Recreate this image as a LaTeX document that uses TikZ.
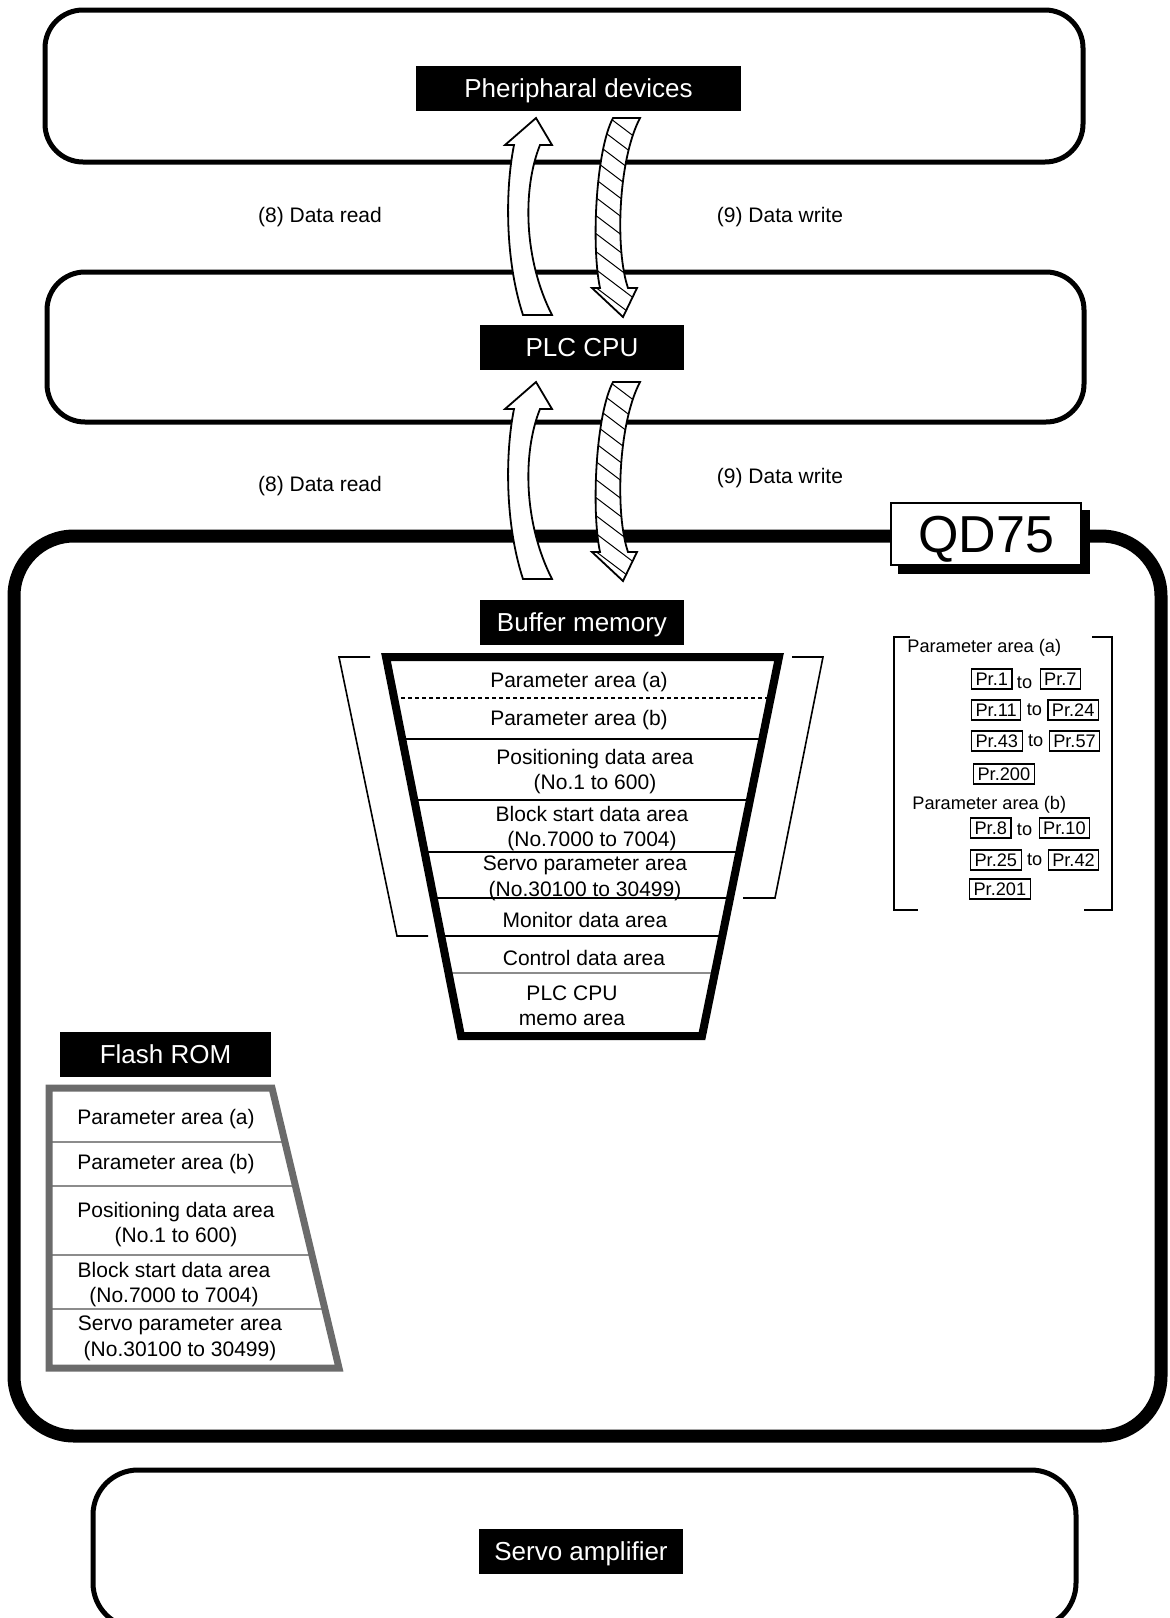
\documentclass[tikz,border=0pt]{standalone}
\usepackage{fontspec}
\setmainfont{Liberation Sans}
\usepackage{xcolor}
\usetikzlibrary{positioning,shadows}
\definecolor{romgray}{HTML}{6B6B6B}
\definecolor{linegray}{HTML}{8C8C8C}

\begin{document}
\begin{tikzpicture}[
    x=0.5pt, y=-0.5pt,
    font=\fontsize{10.5}{12.6}\selectfont,
    unit/.style={draw, line width=2.5pt, rounded corners=19pt},
    tag/.style={fill=black, text=white, minimum width=102pt,
                minimum height=22.5pt, inner sep=0pt, text height=9.4pt,
                text depth=0pt, font=\fontsize{13}{15}\selectfont},
    area/.style={align=center, inner sep=0pt, yshift=-1.2pt},
    prbox/.style={draw, line width=0.6pt, inner xsep=2pt, inner ysep=0pt,
                  minimum height=10pt, font=\fontsize{9.1}{11}\selectfont},
    prtext/.style={inner sep=0pt, font=\fontsize{9.1}{11}\selectfont},
    bracket/.style={line width=0.8pt},
    flow/.style={draw, line width=0.9pt, fill=white},
    readarrow/.pic={
      \draw[flow] (536,118) -- (552,145) -- (540,145)
        .. controls (522,190) and (524,260) .. (552,315)
        -- (523,315) .. controls (505,260) and (505,190) .. (514,145)
        -- (505,145) -- cycle;
    },
    writearrow/.pic={
      \begin{scope}
        \clip (613,118) -- (640,118) .. controls (618,160) and (615,250) .. (628,288)
          -- (637,288) -- (623,317) -- (592,288) -- (600,288)
          .. controls (591,245) and (596,150) .. cycle;
        \fill[white] (580,110) rectangle (650,320);
        \foreach \k in {0,...,13}
          \draw[line width=0.5pt] (570,88+18*\k) -- ++(90,68);
      \end{scope}
      \draw[line width=0.9pt] (613,118) -- (640,118)
        .. controls (618,160) and (615,250) .. (628,288)
        -- (637,288) -- (623,317) -- (592,288) -- (600,288)
        .. controls (591,245) and (596,150) .. cycle;
    },
]
\useasboundingbox (0,0) rectangle (1170,1618);

% Units
\draw[unit] (45,10) rectangle (1083,162);
\draw[unit] (47,272) rectangle (1084,422);
\draw[unit, rounded corners=22.5pt] (93,1470) rectangle (1076,1628);
\draw[line width=6.5pt, rounded corners=30pt] (14,536) rectangle (1161,1436);

% Data flow
\pic at (0,0) {readarrow};
\pic at (0,0) {writearrow};
\pic at (0,264) {readarrow};
\pic at (0,264) {writearrow};
\node (rd1) at (320,217) {(8) Data read};
\node (wr1) at (780,217) {(9) Data write};
\node (rd2) at (320,486) {(8) Data read};
\node (wr2) at (780,478) {(9) Data write};

% Labels
\node[tag, minimum width=162.5pt] (periph) at (578.5,88.5) {Pheripharal devices};
\node[tag] (plc) at (582,347) {PLC CPU};
\node[tag] (buffer) at (582,622) {Buffer memory};
\node[tag, minimum width=105.5pt] (flash) at (165.5,1054.5) {Flash ROM};
\node[tag] (servo) at (581,1551) {Servo amplifier};
\node[draw, fill=white, line width=0.8pt, minimum width=95pt,
      minimum height=31pt, inner sep=0pt, text height=18.6pt, text depth=0pt,
      font=\fontsize{26}{30}\selectfont,
      copy shadow={shadow xshift=4pt, shadow yshift=-4pt, fill=black, draw=black}]
  (qd) at (986,534) {QD75};

% Buffer memory
\begin{scope}
  \clip (386,657) -- (779,657) -- (702,1036) -- (461,1036) -- cycle;
  \draw[dash pattern=on 2pt off 1.5pt, line width=0.7pt] (380,698) -- (790,698);
  \foreach \yy in {739,800,852,898,936}
    \draw[line width=0.8pt] (380,\yy) -- (790,\yy);
  \draw[linegray, line width=0.8pt] (380,973) -- (790,973);
\end{scope}
\draw[line width=4pt] (386,657) -- (779,657) -- (702,1036) -- (461,1036) -- cycle;
\node[area] (b1) at (579,680) {Parameter area (a)};
\node[area] (b2) at (579,718) {Parameter area (b)};
\node[area] (b3) at (595,769) {Positioning data area\\(No.1 to 600)};
\node[area] (b4) at (592,826) {Block start data area\\(No.7000 to 7004)};
\node[area] (b5) at (585,876) {Servo parameter area\\(No.30100 to 30499)};
\node[area] (b6) at (585,918) {Monitor data area};
\node[area] (b7) at (584,956) {Control data area};
\node[area] (b8) at (572,1003) {PLC CPU\\memo area};
\draw[bracket] (370,657) -- (339,657) -- (397,936) -- (428,936);
\draw[bracket] (792,657) -- (823,657) -- (775,898) -- (743,898);

% Parameter list
\draw[bracket] (910,637) -- (894,637) -- (894,910) -- (918,910);
\draw[bracket] (1092,637) -- (1112,637) -- (1112,910) -- (1084,910);
\node[prtext, anchor=west] (pa) at (907,648) {Parameter area (a)};
\node[prbox, anchor=west] (p1) at (971,679) {Pr.1};
\node[prtext, right=2pt of p1, yshift=-2pt] (t1) {to};
\node[prbox, right=3.5pt of t1, yshift=2pt] (p7) {Pr.7};
\node[prbox, anchor=west] (p11) at (971,710) {Pr.11};
\node[prtext, right=2.5pt of p11] (t2) {to};
\node[prbox, right=2.5pt of t2] (p24) {Pr.24};
\node[prbox, anchor=west] (p43) at (971,741) {Pr.43};
\node[prtext, right=2.5pt of p43] (t3) {to};
\node[prbox, right=2.5pt of t3] (p57) {Pr.57};
\node[prbox, anchor=west] (p200) at (973,774) {Pr.200};
\node[prtext, anchor=west] (pb) at (912,805) {Parameter area (b)};
\node[prbox, anchor=west] (p8) at (970,828) {Pr.8};
\node[prtext, right=2.5pt of p8, yshift=-1pt] (t4) {to};
\node[prbox, right=3pt of t4, yshift=1pt] (p10) {Pr.10};
\node[prbox, anchor=west] (p25) at (970,860) {Pr.25};
\node[prtext, right=2.5pt of p25] (t5) {to};
\node[prbox, right=2.5pt of t5] (p42) {Pr.42};
\node[prbox, anchor=west] (p201) at (969,889) {Pr.201};

% Flash ROM
\begin{scope}
  \clip (49,1088) -- (272,1088) -- (339,1368) -- (49,1368) -- cycle;
  \foreach \yy in {1142,1186,1255,1309}
    \draw[linegray, line width=0.8pt] (40,\yy) -- (350,\yy);
\end{scope}
\draw[romgray, line width=3.5pt] (49,1088) -- (272,1088) -- (339,1368) -- (49,1368) -- cycle;
\node[area] (f1) at (166,1117) {Parameter area (a)};
\node[area] (f2) at (166,1162) {Parameter area (b)};
\node[area] (f3) at (176,1222) {Positioning data area\\(No.1 to 600)};
\node[area] (f4) at (174,1282) {Block start data area\\(No.7000 to 7004)};
\node[area] (f5) at (180,1336) {Servo parameter area\\(No.30100 to 30499)};
\end{tikzpicture}
\end{document}
